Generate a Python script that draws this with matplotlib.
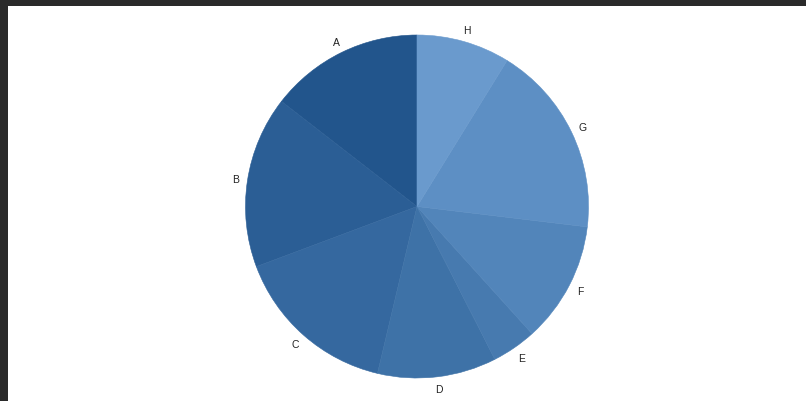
import matplotlib
matplotlib.use("Agg")
import matplotlib.pyplot as plt
from matplotlib.patches import Rectangle

labels = ["A", "B", "C", "D", "E", "F", "G", "H"]
values = [14.5, 16.2, 15.6, 11.2, 4.2, 11.4, 18.1, 8.8]
colors = ["#22558c", "#2b5e95", "#35689f", "#3e72a7", "#477aaf",
          "#5285ba", "#5d8fc4", "#6a9acd"]

W, H = 806, 402
fig = plt.figure(figsize=(W / 100, H / 100), dpi=100)
fig.patch.set_facecolor("#2a2a2a")
fig.add_artist(Rectangle((8 / W, 0), 1 - 8 / W, 1 - 7 / H,
                         transform=fig.transFigure, facecolor="white",
                         edgecolor="none", zorder=0))

# pie centre and radius in pixels
cx, cy, r = 417, 207.5, 171.5
span = 1.3
side = 2 * span * r
ax = fig.add_axes([(cx - side / 2) / W, (H - cy - side / 2) / H,
                   side / W, side / H])

wedges, texts = ax.pie(values, labels=labels, colors=colors, startangle=90,
                       counterclock=True, labeldistance=1.07,
                       wedgeprops=dict(linewidth=0.4),
                       textprops=dict(fontsize=7.5, color="#222222",
                                      family="Liberation Sans"))
for w, c in zip(wedges, colors):
    w.set_edgecolor(c)
for t in texts:
    t.set_ha("center")
    t.set_va("center")
    t.set_clip_on(False)

ax.set_xlim(-span, span)
ax.set_ylim(-span, span)
ax.set_aspect("equal")
ax.axis("off")

fig.savefig("out.png", dpi=100)
